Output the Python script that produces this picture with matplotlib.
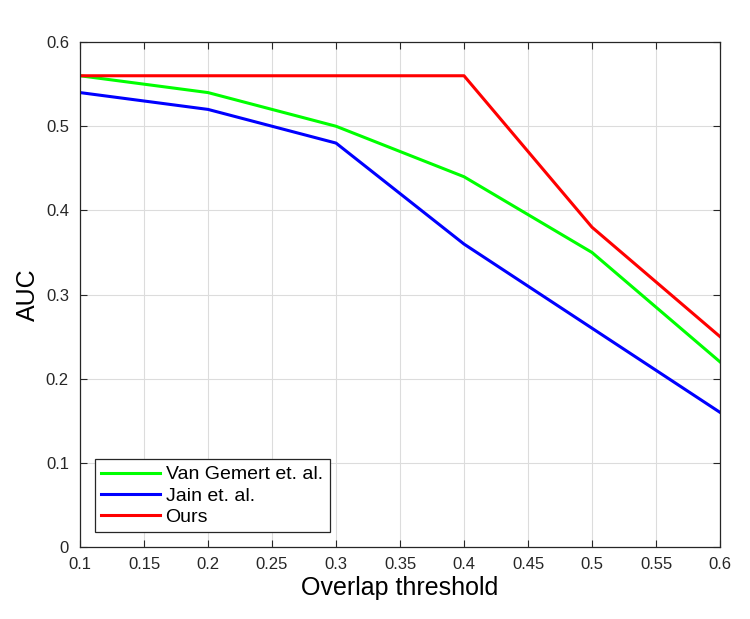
import matplotlib
matplotlib.use("Agg")
import matplotlib.pyplot as plt

plt.rcParams['font.family'] = ['Liberation Sans', 'DejaVu Sans']

thresholds = [0.1, 0.2, 0.3, 0.4, 0.5, 0.6]
vangemert = [0.56, 0.54, 0.50, 0.44, 0.35, 0.22]
jain = [0.54, 0.52, 0.48, 0.36, 0.26, 0.16]
ours = [0.56, 0.56, 0.56, 0.56, 0.38, 0.25]

xticks = [0.1, 0.15, 0.2, 0.25, 0.3, 0.35, 0.4, 0.45, 0.5, 0.55, 0.6]
xticklabels = ['0.1', '0.15', '0.2', '0.25', '0.3', '0.35', '0.4', '0.45', '0.5', '0.55', '0.6']
yticks = [0, 0.1, 0.2, 0.3, 0.4, 0.5, 0.6]
yticklabels = ['0', '0.1', '0.2', '0.3', '0.4', '0.5', '0.6']

fig = plt.figure(figsize=(7.5, 6.19), dpi=100)
ax = fig.add_axes([0.1067, 0.1163, 0.8533, 0.8157])

ax.plot(thresholds, vangemert, color='#00ff00', lw=2.2, label='Van Gemert et. al.')
ax.plot(thresholds, jain, color='#0000ff', lw=2.2, label='Jain et. al.')
ax.plot(thresholds, ours, color='#ff0000', lw=2.2, label='Ours')

ax.set_xlim(0.1, 0.6)
ax.set_ylim(0, 0.6)
ax.set_xticks(xticks)
ax.set_xticklabels(xticklabels)
ax.set_yticks(yticks)
ax.set_yticklabels(yticklabels)
ax.grid(True, color='#dcdcdc', lw=0.8)
ax.set_axisbelow(True)
ax.tick_params(direction='in', top=True, right=True, labelsize=12, length=5, width=0.8,
               colors='#262626')
ax.tick_params(axis='x', pad=7)
ax.tick_params(axis='y', pad=8)
for s in ax.spines.values():
    s.set_color('#262626')
    s.set_linewidth(0.9)

ax.set_xlabel('Overlap threshold', fontsize=18, labelpad=3)
ax.set_ylabel('AUC', fontsize=18, labelpad=4)

leg = ax.legend(loc='lower left', fontsize=14, fancybox=False, framealpha=1,
                edgecolor='#262626', borderaxespad=0.75, handlelength=3.0,
                labelspacing=0.18, borderpad=0.35, handletextpad=0.3)
leg.get_frame().set_linewidth(0.9)

fig.savefig('out.png', dpi=100)
